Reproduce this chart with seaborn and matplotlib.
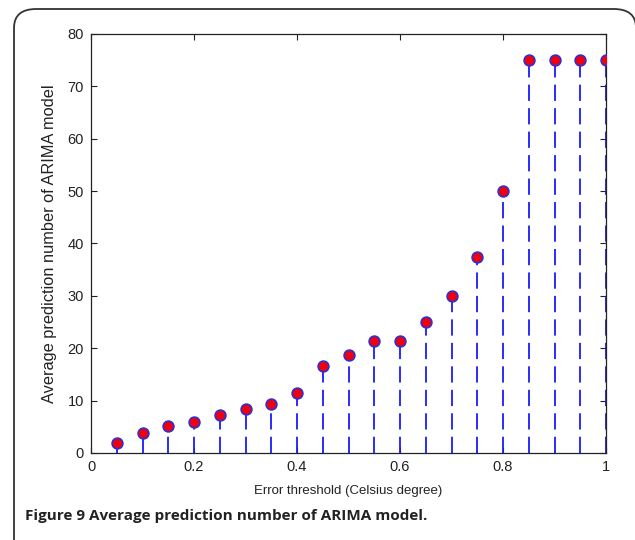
import matplotlib
matplotlib.use("Agg")
import matplotlib.pyplot as plt
import seaborn as sns
import pandas as pd
from matplotlib.patches import FancyBboxPatch

thresholds = [0.05, 0.10, 0.15, 0.20, 0.25, 0.30, 0.35, 0.40, 0.45, 0.50,
              0.55, 0.60, 0.65, 0.70, 0.75, 0.80, 0.85, 0.90, 0.95, 1.00]
pred_numbers = [2.0, 3.9, 5.1, 6.0, 7.2, 8.4, 9.3, 11.4, 16.7, 18.8,
                21.4, 21.4, 25.0, 30.0, 37.5, 50.0, 75.0, 75.0, 75.0, 75.0]
x_ticks = [0, 0.2, 0.4, 0.6, 0.8, 1]
x_tick_labels = ["0", "0.2", "0.4", "0.6", "0.8", "1"]
y_ticks = [0, 10, 20, 30, 40, 50, 60, 70, 80]

df = pd.DataFrame({"threshold": thresholds, "pred": pred_numbers})

sns.set_theme(style="ticks")
plt.rcParams["font.family"] = ["Liberation Sans", "DejaVu Sans"]

fig = plt.figure(figsize=(6.35, 5.4), dpi=100)
ax = fig.add_axes([91/635, 1 - 453/540, (606 - 91)/635, (453 - 34)/540])

ax.vlines(df["threshold"], 0, df["pred"], colors="#1a1aff", linewidth=1.3,
          linestyles=(0, (9, 4)), zorder=2)
sns.scatterplot(data=df, x="threshold", y="pred", ax=ax, s=60,
                color="#ee0011", edgecolor="#3030d0", linewidth=1.2, zorder=3,
                legend=False)

ax.set_xlim(0, 1)
ax.set_ylim(0, 80)
ax.set_xticks(x_ticks)
ax.set_xticklabels(x_tick_labels)
ax.set_yticks(y_ticks)
ax.tick_params(direction="in", top=True, right=True, length=4, width=0.8,
               labelsize=10.5, colors="#222222", pad=5)
for sp in ax.spines.values():
    sp.set_linewidth(0.9)
    sp.set_color("#222222")
ax.set_xlabel("Error threshold (Celsius degree)", fontsize=9.5, color="#222222", labelpad=8)
ax.set_ylabel("Average prediction number of ARIMA model", fontsize=11.8, color="#222222", labelpad=8)

# rounded frame around the figure
frame = FancyBboxPatch((14/635, -0.05), (636 - 14)/635, 1 - 9/540 + 0.05,
                       boxstyle="round,pad=0,rounding_size=0.035",
                       transform=fig.transFigure, fill=False,
                       edgecolor="#333333", linewidth=1.3, clip_on=False)
fig.patches.append(frame)

fig.text(25/635, 1 - 516/540, "Figure 9 Average prediction number of ARIMA model.",
         fontsize=11, fontweight="bold", family=["Open Sans", "DejaVu Sans"],
         color="#222222", va="center", ha="left")

fig.savefig("out.png", dpi=100)
